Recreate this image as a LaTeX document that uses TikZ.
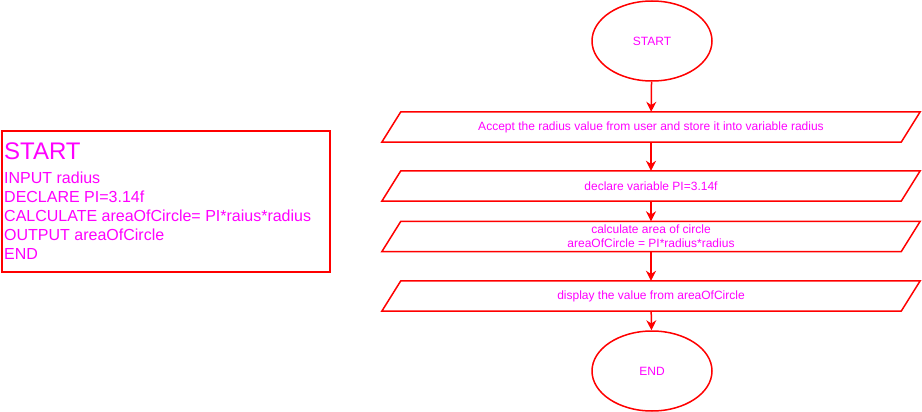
\documentclass[tikz,border=0pt]{standalone}
\usepackage{fontspec}
\setmainfont{Liberation Sans}
\usepackage{tikz}
\usetikzlibrary{shapes, arrows, calc, positioning}
\usetikzlibrary{arrows.meta}

\definecolor{flowred}{HTML}{FF0000}
\definecolor{flowpink}{HTML}{FF00FF}

\begin{document}
\begin{tikzpicture}[
      x=1pt, y=-1pt,
      every node/.style={text=flowpink, font=\fontsize{12}{14}\selectfont},
      terminal/.style={ellipse, draw=flowred, line width=1.5pt, inner sep=0pt, minimum width=120pt, minimum height=80pt},
      iobox/.style={rectangle, inner sep=0pt, minimum width=519pt, minimum height=30pt, align=center},
      ioframe/.style={draw=flowred, line width=1.5pt},
      flow/.style={draw=flowred, line width=1.5pt, -{Stealth[length=10pt, width=10pt]}},
      codebox/.style={rectangle, draw=flowred, line width=1.6pt, minimum width=328pt, minimum height=141pt, inner sep=0pt},
      codeline/.style={anchor=base west, inner sep=0pt, font=\fontsize{16}{18}\selectfont}
    ]
    \useasboundingbox (0,0) rectangle (922,412);

    % Pseudocode box on the left
    \node[codebox] (code) at (166,201.5) {};
    \node[codeline, font=\fontsize{24}{26}\selectfont] (codestart) at (4,160) {START};
    \foreach \txt [count=\i] in {INPUT radius, DECLARE PI=3.14f, CALCULATE areaOfCircle= PI*raius*radius, OUTPUT areaOfCircle, END}
      \node[codeline] (code\i) at (4,{164+19*\i}) {\txt};

    % Flowchart on the right
    \node[terminal] (start) at (652,41) {START};
    \node[iobox] (accept) at (651,127) {Accept the radius value from user and store it into variable radius};
    \node[iobox] (declare) at (651,186) {declare variable PI=3.14f};
    \node[iobox] (calc) at (651,236.5) {calculate area of circle\\areaOfCircle = PI*radius*radius};
    \node[iobox] (display) at (651,296) {display the value from areaOfCircle};
    \node[terminal] (end) at (652,371) {END};

    % Parallelogram outlines round the i/o steps
    \foreach \n in {accept, declare, calc, display}
      \draw[ioframe] ($(\n.south west)+(-9.5,0)$) -- ($(\n.north west)+(9.5,0)$)
        -- ($(\n.north east)+(9.5,0)$) -- ($(\n.south east)+(-9.5,0)$) -- cycle;

    % Connectors
    \draw[flow] (start) -- (accept);
    \draw[flow] (accept) -- (declare);
    \draw[flow] (declare) -- (calc);
    \draw[flow] (calc) -- (display);
    \draw[flow] (display) -- (end);
  \end{tikzpicture}
\end{document}
